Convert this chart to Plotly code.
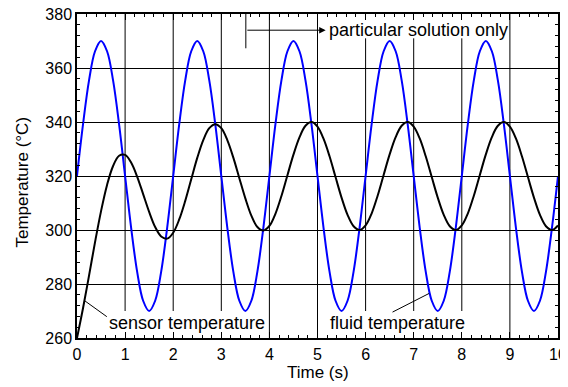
import plotly.graph_objects as go

# Time samples (s)
time_s = [0.0, 0.125, 0.25, 0.375, 0.5, 0.625, 0.75, 0.875,
          1.0, 1.125, 1.25, 1.375, 1.5, 1.625, 1.75, 1.875,
          2.0, 2.125, 2.25, 2.375, 2.5, 2.625, 2.75, 2.875,
          3.0, 3.125, 3.25, 3.375, 3.5, 3.625, 3.75, 3.875,
          4.0, 4.125, 4.25, 4.375, 4.5, 4.625, 4.75, 4.875,
          5.0, 5.125, 5.25, 5.375, 5.5, 5.625, 5.75, 5.875,
          6.0, 6.125, 6.25, 6.375, 6.5, 6.625, 6.75, 6.875,
          7.0, 7.125, 7.25, 7.375, 7.5, 7.625, 7.75, 7.875,
          8.0, 8.125, 8.25, 8.375, 8.5, 8.625, 8.75, 8.875,
          9.0, 9.125, 9.25, 9.375, 9.5, 9.625, 9.75, 9.875,
          10.0]

# Fluid temperature (°C)
fluid_temp = [320, 339.1, 355.4, 366.2, 370, 366.2, 355.4, 339.1,
              320, 300.9, 284.6, 273.8, 270, 273.8, 284.6, 300.9,
              320, 339.1, 355.4, 366.2, 370, 366.2, 355.4, 339.1,
              320, 300.9, 284.6, 273.8, 270, 273.8, 284.6, 300.9,
              320, 339.1, 355.4, 366.2, 370, 366.2, 355.4, 339.1,
              320, 300.9, 284.6, 273.8, 270, 273.8, 284.6, 300.9,
              320, 339.1, 355.4, 366.2, 370, 366.2, 355.4, 339.1,
              320, 300.9, 284.6, 273.8, 270, 273.8, 284.6, 300.9,
              320, 339.1, 355.4, 366.2, 370, 366.2, 355.4, 339.1,
              320, 300.9, 284.6, 273.8, 270, 273.8, 284.6, 300.9,
              320]

# Sensor temperature (°C)
sensor_temp = [260.0, 271.0, 283.1, 295.5, 307.0, 316.7, 323.7, 327.5,
               327.8, 325.0, 319.8, 313.3, 306.7, 301.1, 297.6, 296.8,
               299.0, 303.9, 310.8, 318.8, 326.7, 333.3, 337.7, 339.2,
               337.7, 333.3, 326.8, 319.2, 311.7, 305.3, 301.1, 299.8,
               301.5, 306.0, 312.6, 320.3, 327.9, 334.3, 338.6, 340.0,
               338.3, 333.8, 327.3, 319.6, 312.0, 305.6, 301.4, 300.0,
               301.7, 306.1, 312.7, 320.4, 328.0, 334.4, 338.6, 340.0,
               338.3, 333.9, 327.3, 319.6, 312.0, 305.6, 301.4, 300.0,
               301.7, 306.1, 312.7, 320.4, 328.0, 334.4, 338.6, 340.0,
               338.3, 333.9, 327.3, 319.6, 312.0, 305.6, 301.4, 300.0,
               301.7]

x_ticks = [0, 1, 2, 3, 4, 5, 6, 7, 8, 9, 10]
y_ticks = [260, 280, 300, 320, 340, 360, 380]

# partial vertical grid lines: (x, y_bottom, y_top)
vgrid = [(1, 270, 380), (2, 270, 380), (3, 270, 380),
         (4, 260, 380), (5, 260, 380),
         (6, 270, 371), (7, 270, 371), (8, 270, 371),
         (9, 260, 380)]

FONT = "Liberation Sans, Arial, sans-serif"

fig = go.Figure()
fig.add_trace(go.Scatter(x=time_s, y=fluid_temp, mode="lines",
                         line=dict(color="#0000ff", width=2, shape="spline"),
                         name="fluid temperature", showlegend=False))
fig.add_trace(go.Scatter(x=time_s, y=sensor_temp, mode="lines",
                         line=dict(color="black", width=2, shape="spline"),
                         name="sensor temperature", showlegend=False))

shapes = []
for gx, y0, y1 in vgrid:
    shapes.append(dict(type="line", xref="x", yref="y", x0=gx, x1=gx, y0=y0, y1=y1,
                       line=dict(color="black", width=1), layer="below"))
# vertical stem of the "particular solution only" marker
shapes.append(dict(type="line", xref="x", yref="y", x0=3.51, x1=3.51, y0=367.3, y1=380,
                   line=dict(color="black", width=1)))
# leader lines
shapes.append(dict(type="line", xref="x", yref="y", x0=0.16, y0=273.8, x1=0.62, y1=267.9,
                   line=dict(color="black", width=1)))
shapes.append(dict(type="line", xref="x", yref="y", x0=6.56, y0=269.6, x1=7.32, y1=276.5,
                   line=dict(color="black", width=1)))

annotations = [
    dict(x=5.17, y=374, ax=3.51, ay=374, xref="x", yref="y", axref="x", ayref="y",
         text="", showarrow=True, arrowhead=2, arrowsize=1.3, arrowwidth=1,
         arrowcolor="black", standoff=0),
    dict(x=5.2, y=374, xref="x", yref="y", text="particular solution only",
         showarrow=False, xanchor="left", yanchor="middle",
         font=dict(family=FONT, size=18, color="black")),
    dict(x=2.29, y=265.6, xref="x", yref="y", text="sensor temperature",
         showarrow=False, xanchor="center", yanchor="middle",
         font=dict(family=FONT, size=18, color="black")),
    dict(x=6.66, y=265.7, xref="x", yref="y", text="fluid temperature",
         showarrow=False, xanchor="center", yanchor="middle",
         font=dict(family=FONT, size=18, color="black")),
    # axis titles
    dict(x=-0.1143, y=0.48, xref="paper", yref="paper", text="Temperature (°C)",
         showarrow=False, xanchor="center", yanchor="middle", textangle=-90,
         font=dict(family=FONT, size=17, color="black")),
    dict(x=0.5, y=-0.107, xref="paper", yref="paper", text="Time (s)",
         showarrow=False, xanchor="center", yanchor="middle",
         font=dict(family=FONT, size=17, color="black")),
]

# the page body adds an 8 px offset; size the figure so the plot lands where the reference has it
fig.update_layout(
    width=560, height=379,
    margin=dict(l=69, r=10, t=6, b=49),
    paper_bgcolor="white", plot_bgcolor="white",
    font=dict(family=FONT, size=17, color="black"),
    shapes=shapes, annotations=annotations,
    xaxis=dict(range=[0, 10], tickvals=x_ticks, ticktext=[str(v) for v in x_ticks],
               automargin=False, showgrid=False, zeroline=False,
               showline=True, linecolor="black", linewidth=1.5, mirror="ticks",
               ticks="inside", ticklen=6, tickcolor="black", tickwidth=1,
               ticklabelstandoff=1, ticklabeloverflow="allow",
               minor=dict(dtick=0.2, ticks="inside", ticklen=3.5, tickcolor="black", tickwidth=1),
               tickfont=dict(size=16)),
    yaxis=dict(range=[260, 380], tickvals=y_ticks, ticktext=[str(v) for v in y_ticks],
               automargin=False, showgrid=True, gridcolor="black", gridwidth=1, zeroline=False,
               showline=True, linecolor="black", linewidth=1.5, mirror="ticks",
               ticks="inside", ticklen=6, tickcolor="black", tickwidth=1,
               ticklabeloverflow="allow",
               minor=dict(dtick=4, ticks="inside", ticklen=3.5, tickcolor="black", tickwidth=1),
               tickfont=dict(size=16)),
)

fig.write_html("out.html")
